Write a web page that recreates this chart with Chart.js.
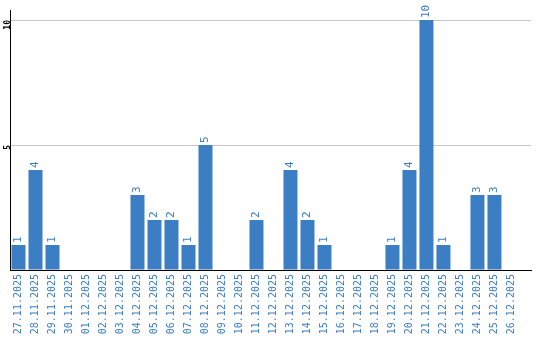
<!DOCTYPE html>
<html>
<head>
<meta charset="utf-8">
<script src="https://cdn.jsdelivr.net/npm/chart.js@4.4.0/dist/chart.umd.min.js"></script>
<style>
  html, body { margin: 0; padding: 0; background: #fff; }
  #wrap { width: 540px; height: 340px; }
</style>
</head>
<body>
<div id="wrap"><canvas id="chart"></canvas></div>
<script>
const days = ['27.11.2025', '28.11.2025', '29.11.2025', '30.11.2025', '01.12.2025',
  '02.12.2025', '03.12.2025', '04.12.2025', '05.12.2025', '06.12.2025', '07.12.2025',
  '08.12.2025', '09.12.2025', '10.12.2025', '11.12.2025', '12.12.2025', '13.12.2025',
  '14.12.2025', '15.12.2025', '16.12.2025', '17.12.2025', '18.12.2025', '19.12.2025',
  '20.12.2025', '21.12.2025', '22.12.2025', '23.12.2025', '24.12.2025', '25.12.2025',
  '26.12.2025']
const counts = [1, 4, 1, 0, 0, 0, 0, 3, 2, 2, 1, 5, 0, 0, 2, 0, 4, 2, 1, 0, 0, 0, 1, 4, 10, 1, 0, 3, 3, 0]
const yTicks = [5, 10]

const blue = '#3b7ec3'
const mono = 'DejaVu Sans Mono'

// values written on top of the bars, rotated like the axis labels
const barValues = {
  id: 'barValues',
  afterDatasetsDraw (chart) {
    const ctx = chart.ctx
    const meta = chart.getDatasetMeta(0)
    ctx.save()
    ctx.fillStyle = blue
    ctx.font = '11px ' + mono
    ctx.textAlign = 'left'
    ctx.textBaseline = 'middle'
    meta.data.forEach((bar, i) => {
      if (!counts[i]) { return }
      ctx.save()
      ctx.translate(bar.x, bar.y - 2)
      ctx.rotate(-Math.PI / 2)
      ctx.fillText(String(counts[i]), 0, 0)
      ctx.restore()
    })
    ctx.restore()
  }
}

new Chart(document.getElementById('chart'), {
  type: 'bar',
  data: {
    datasets: [{
      data: counts.map((v, i) => ({ x: i, y: v })),
      backgroundColor: blue,
      barPercentage: 14 / 17,
      categoryPercentage: 1
    }]
  },
  options: {
    responsive: true,
    maintainAspectRatio: false,
    animation: false,
    layout: { padding: { top: 10, right: 9, left: 0, bottom: 0 } },
    plugins: {
      legend: { display: false },
      tooltip: { enabled: false }
    },
    scales: {
      x: {
        type: 'linear',
        min: -0.5,
        max: 30.15,
        offset: false,
        afterFit: (scale) => {
          scale.height = 70
          scale.paddingLeft = 0
          scale.paddingRight = 0
        },
        grid: { display: false, drawTicks: false },
        border: { display: true, color: '#000', width: 1 },
        ticks: {
          stepSize: 1,
          includeBounds: false,
          autoSkip: false,
          minRotation: 90,
          maxRotation: 90,
          padding: 4,
          color: blue,
          font: { family: mono, size: 10 },
          callback: (v) => days[v] || ''
        }
      },
      y: {
        min: 0,
        max: 10.4,
        afterFit: (scale) => {
          scale.width = 10
          scale.paddingTop = 0
          scale.paddingBottom = 0
        },
        grid: { color: '#c8c8c8', drawTicks: false },
        border: { display: true, color: '#000', width: 1 },
        ticks: {
          stepSize: 5,
          includeBounds: false,
          minRotation: 90,
          maxRotation: 90,
          padding: 2,
          color: '#000',
          font: { family: mono, size: 8, weight: 'bold' },
          callback: (v) => yTicks.includes(v) ? String(v) : ''
        }
      }
    }
  },
  plugins: [barValues]
})
</script>
</body>
</html>
